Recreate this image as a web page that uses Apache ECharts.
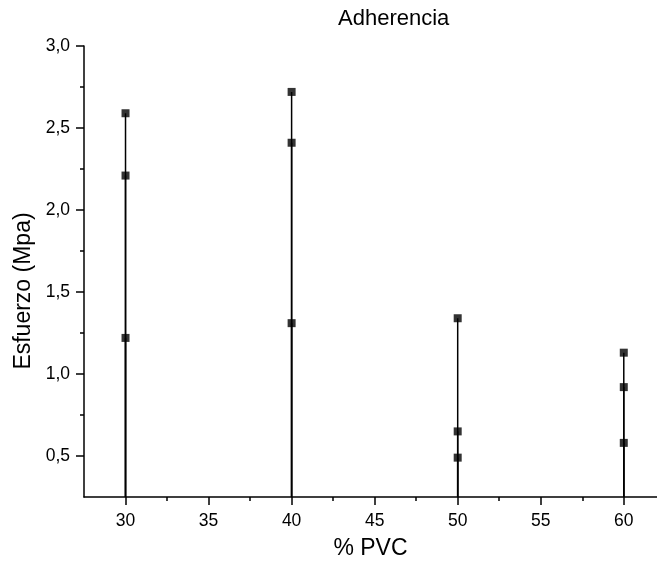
<!DOCTYPE html>
<html>
<head>
<meta charset="utf-8">
<script src="https://cdn.jsdelivr.net/npm/echarts@6/dist/echarts.min.js"></script>
<style>
html, body { margin: 0; padding: 0; background: #fff; }
#main { width: 657px; height: 565px; }
</style>
</head>
<body>
<div id="main"></div>
<script>
var pvc = [30, 40, 50, 60];//% PVC
var esfuerzo_1 = [1.22, 1.31, 0.49, 0.58];//Esfuerzo (Mpa) punto bajo
var esfuerzo_2 = [2.21, 2.41, 0.65, 0.92];//punto medio
var esfuerzo_3 = [2.59, 2.72, 1.34, 1.13];//punto alto

var x_ticks = [30, 35, 40, 45, 50, 55, 60];
var x_minor = [32.5, 37.5, 42.5, 47.5, 52.5, 57.5];
var y_ticks = [0.5, 1.0, 1.5, 2.0, 2.5, 3.0];
var y_minor = [0.75, 1.25, 1.75, 2.25, 2.75];

var Y_MIN = 0.25;
var font = 'Liberation Sans, Arial, sans-serif';

var puntos = [];
for (var i = 0; i < pvc.length; i++) {
	puntos.push([pvc[i], esfuerzo_1[i]]);
	puntos.push([pvc[i], esfuerzo_2[i]]);
	puntos.push([pvc[i], esfuerzo_3[i]]);
}

function coma(v){
	return v.toFixed(1).replace('.', ',');
}

var chart = echarts.init(document.getElementById('main'));
var axis_line = {lineStyle: {color: '#000', width: 1.5}};
var option = {
	animation: false,
	title: {
		text: 'Adherencia',
		left: 333,
		top: 3,
		textStyle: {fontFamily: font, fontSize: 22, fontWeight: 'normal', color: '#000'}
	},
	grid: {left: 84, right: 0, top: 46, bottom: 68},
	xAxis: [
		{
			type: 'value',
			min: 27.5,
			max: 62,
			name: '% PVC',
			nameLocation: 'middle',
			nameGap: 40,
			nameTextStyle: {fontFamily: font, fontSize: 23, color: '#000'},
			axisLine: axis_line,
			axisTick: {show: true, inside: false, length: 8, customValues: x_ticks, lineStyle: {color: '#000', width: 1.5}},
			axisLabel: {customValues: x_ticks, margin: 15, fontFamily: font, fontSize: 17.5, color: '#000'},
			splitLine: {show: false}
		},
		{
			type: 'value',
			min: 27.5,
			max: 62,
			position: 'bottom',
			axisLine: {show: false},
			axisTick: {show: true, length: 4, customValues: x_minor, lineStyle: {color: '#000', width: 1.5}},
			axisLabel: {show: false},
			splitLine: {show: false}
		}
	],
	yAxis: [
		{
			type: 'value',
			min: Y_MIN,
			max: 3.0,
			name: 'Esfuerzo (Mpa)',
			nameLocation: 'middle',
			nameGap: 49,
			nameTextStyle: {fontFamily: font, fontSize: 23, color: '#000', padding: [0, 39, 0, 0]},
			axisLine: axis_line,
			axisTick: {show: true, length: 8, customValues: y_ticks, lineStyle: {color: '#000', width: 1.5}},
			axisLabel: {customValues: y_ticks, margin: 14, fontFamily: font, fontSize: 17.5, color: '#000', formatter: coma},
			splitLine: {show: false}
		},
		{
			type: 'value',
			min: Y_MIN,
			max: 3.0,
			position: 'left',
			axisLine: {show: false},
			axisTick: {show: true, length: 4, customValues: y_minor, lineStyle: {color: '#000', width: 1.5}},
			axisLabel: {show: false},
			splitLine: {show: false}
		}
	],
	series: [
		{
			//lineas verticales hasta el eje
			type: 'custom',
			data: puntos,
			renderItem: function(params, api){
				var p = api.coord([api.value(0), api.value(1)]);
				var b = api.coord([api.value(0), Y_MIN]);
				return {
					type: 'line',
					shape: {x1: p[0], y1: p[1], x2: b[0], y2: b[1]},
					style: {stroke: '#000', lineWidth: 1.5}
				};
			},
			silent: true
		},
		{
			type: 'scatter',
			data: puntos,
			symbol: 'rect',
			symbolSize: 8,
			itemStyle: {color: '#000'}
		}
	]
};
chart.setOption(option);
</script>
</body>
</html>
